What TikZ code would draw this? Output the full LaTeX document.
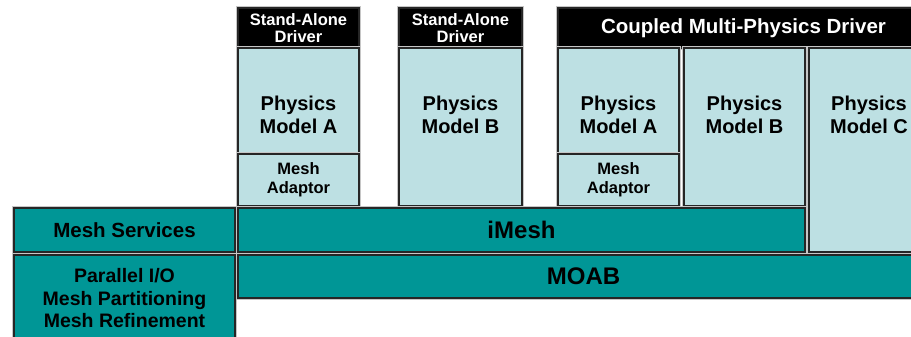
\documentclass[tikz,border=0pt]{standalone}
\usepackage{fontspec}
\setmainfont{Liberation Sans}
\definecolor{paleblue}{RGB}{189,224,227}
\definecolor{meshteal}{RGB}{0,150,150}

\begin{document}
\begin{tikzpicture}[
    x=1pt, y=-1pt,
    box/.style={rectangle, draw=black!85, line width=1.2pt, inner sep=0pt,
      preaction={draw=gray!45, line width=3.2pt}},
    sz/.style 2 args={minimum width=#1pt, minimum height=#2pt},
    driver/.style={box, fill=black, text=white, align=center,
      font=\bfseries\fontsize{16.5}{17}\selectfont},
    model/.style={box, fill=paleblue},
    adaptor/.style={box, fill=paleblue, align=center,
      font=\bfseries\fontsize{16.5}{19}\selectfont},
    layer/.style={box, fill=meshteal, align=center,
      font=\bfseries\fontsize{20.5}{22.5}\selectfont},
    mtext/.style={align=center, font=\bfseries\fontsize{20}{23}\selectfont},
  ]
  \useasboundingbox (0,0) rectangle (911,337);
  \clip (0,0) rectangle (911,337);

  %% --- Stand-alone A ---
  \node[driver, sz={121}{40}] (saA) at (298.5, 28) {Stand-Alone\\Driver};
  \node[model, sz={121}{106}] (physA) at (298.5, 101) {};
  \node[mtext] (physAtxt) at (298.5, 115) {Physics\\Model A};
  \node[adaptor, sz={121}{52}] (adA) at (298.5, 180) {Mesh\\Adaptor};

  %% --- Stand-alone B ---
  \node[driver, sz={123}{40}] (saB) at (460.5, 28) {Stand-Alone\\Driver};
  \node[model, sz={123}{158}] (physB) at (460.5, 127) {};
  \node[mtext] (physBtxt) at (460.5, 115) {Physics\\Model B};

  %% --- Coupled driver ---
  \node[driver, sz={371}{40}, font=\bfseries\fontsize{20.5}{22}\selectfont]
    (cdrv) at (743.5, 28) {Coupled Multi-Physics Driver};
  % A with its adaptor
  \node[model, sz={121}{106}] (cphysA) at (618.5, 101) {};
  \node[mtext] (cphysAtxt) at (618.5, 115) {Physics\\Model A};
  \node[adaptor, sz={121}{52}] (cadA) at (618.5, 180) {Mesh\\Adaptor};
  % B on iMesh
  \node[model, sz={121}{158}] (cphysB) at (744.5, 127) {};
  \node[mtext] (cphysBtxt) at (744.5, 115) {Physics\\Model B};
  % C down to MOAB
  \node[model, sz={120}{204}] (cphysC) at (869, 150) {};
  \node[mtext] (cphysCtxt) at (869, 115) {Physics\\Model C};

  %% --- Layers ---
  \node[layer, sz={221}{44}] (serv) at (124.5, 230) {Mesh Services};
  \node[layer, sz={567}{44}, font=\bfseries\fontsize{24}{26}\selectfont]
    (imesh) at (521.5, 230) {iMesh};
  \node[layer, sz={221}{87}, font=\bfseries\fontsize{19.5}{22.5}\selectfont]
    (tools) at (124.5, 298.5) {Parallel I/O\\Mesh Partitioning\\Mesh Refinement};
  \node[layer, sz={691}{43}, font=\bfseries\fontsize{24}{26}\selectfont]
    (moab) at (583.5, 276.5) {MOAB};
\end{tikzpicture}
\end{document}
